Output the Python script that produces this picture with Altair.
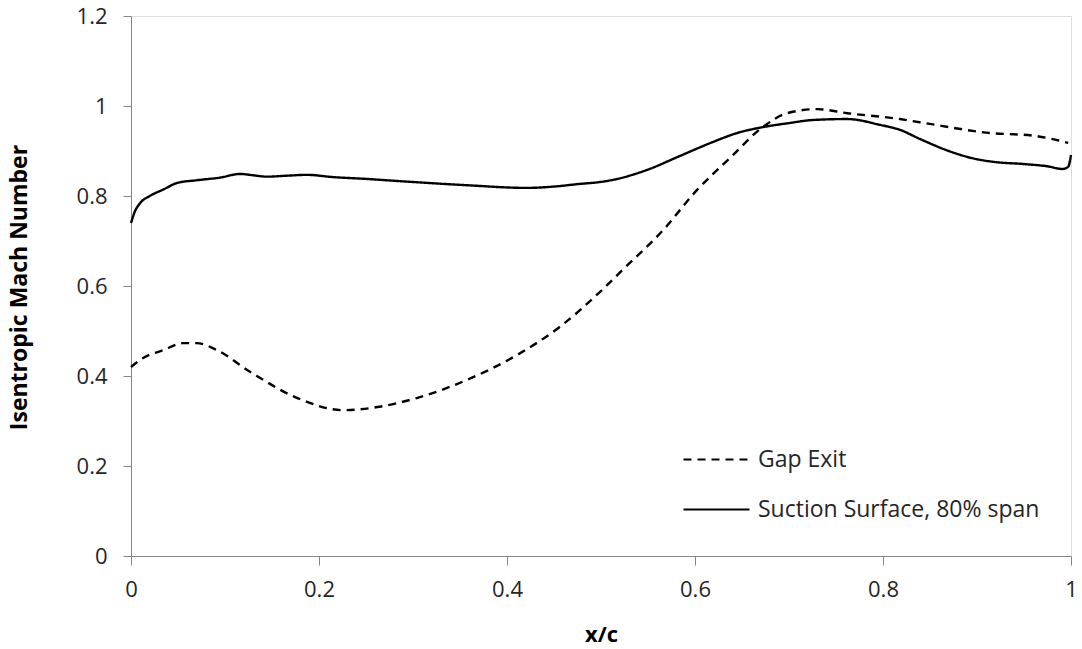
import altair as alt
import pandas as pd

# Suction surface, 80% span
ss_x = [0.0, 0.004, 0.0096, 0.02, 0.035, 0.049, 0.07, 0.095, 0.116, 0.13, 0.145,
        0.165, 0.187, 0.215, 0.25, 0.286, 0.357, 0.421, 0.45, 0.478, 0.499, 0.513,
        0.549, 0.584, 0.619, 0.645, 0.672, 0.7, 0.726, 0.762, 0.797, 0.818, 0.839,
        0.87, 0.895, 0.917, 0.95, 0.975, 0.991, 0.997, 1.0]
ss_y = [0.74, 0.765, 0.784, 0.8, 0.815, 0.829, 0.835, 0.841, 0.849, 0.846, 0.843,
        0.845, 0.847, 0.842, 0.838, 0.833, 0.824, 0.818, 0.821, 0.827, 0.831, 0.836,
        0.858, 0.889, 0.92, 0.94, 0.953, 0.962, 0.969, 0.971, 0.958, 0.947, 0.927,
        0.9, 0.884, 0.876, 0.871, 0.866, 0.86, 0.865, 0.891]

# Gap exit
ge_x = [0.0, 0.013, 0.035, 0.055, 0.07, 0.091, 0.127, 0.177, 0.226, 0.262,
        0.304, 0.357, 0.411, 0.456, 0.499, 0.523, 0.566, 0.602, 0.637, 0.672,
        0.698, 0.73, 0.762, 0.818, 0.839, 0.914, 0.96, 0.997]
ge_y = [0.42, 0.44, 0.458, 0.473, 0.473, 0.458, 0.409, 0.351, 0.324, 0.331,
        0.351, 0.391, 0.447, 0.509, 0.587, 0.636, 0.724, 0.813, 0.884, 0.953,
        0.984, 0.993, 0.984, 0.971, 0.964, 0.94, 0.934, 0.918]

series = ["Gap Exit", "Suction Surface, 80% span"]

df = pd.concat([
    pd.DataFrame({"x": ge_x, "y": ge_y, "series": series[0]}),
    pd.DataFrame({"x": ss_x, "y": ss_y, "series": series[1]}),
])

FONT = "Open Sans"
AXIS_GREY = "#868686"
LABEL = "#262626"

chart = alt.Chart(df).mark_line(
    color="black", strokeWidth=2.4, interpolate="monotone"
).encode(
    x=alt.X("x:Q", title="x/c",
            scale=alt.Scale(domain=[0, 1], nice=False, zero=False),
            axis=alt.Axis(values=[0, 0.2, 0.4, 0.6, 0.8, 1], format="~g",
                          grid=False, domainColor=AXIS_GREY, tickColor=AXIS_GREY,
                          tickSize=9, labelPadding=14, labelFontSize=22,
                          labelFlush=False,
                          labelColor=LABEL, labelFont=FONT,
                          titleFont=FONT, titleFontSize=22, titleFontWeight="bold",
                          titleColor="#000000", titleBaseline="middle",
                          titleY=78, titleX=470)),
    y=alt.Y("y:Q", title="Isentropic Mach Number",
            scale=alt.Scale(domain=[0, 1.2], nice=False),
            axis=alt.Axis(values=[0, 0.2, 0.4, 0.6, 0.8, 1, 1.2], format="~g",
                          grid=False, domainColor=AXIS_GREY, tickColor=AXIS_GREY,
                          tickSize=8, labelPadding=16, labelFontSize=22,
                          labelFlush=False,
                          labelColor=LABEL, labelFont=FONT,
                          titleFont=FONT, titleFontSize=23, titleFontWeight="bold",
                          titleColor="#000000", titleBaseline="middle",
                          titleAngle=270, titleX=-112, titleY=271)),
    strokeDash=alt.StrokeDash(
        "series:N",
        scale=alt.Scale(domain=series, range=[[8, 6], [1, 0]]),
        legend=alt.Legend(title=None, orient="none", legendX=551, legendY=409,
                          symbolType="stroke", symbolSize=4356,
                          symbolStrokeWidth=2.2, symbolStrokeColor="black",
                          labelFont=FONT, labelFontSize=23, labelColor=LABEL,
                          labelOffset=7, labelLimit=0, rowPadding=3),
    ),
    order="x:Q",
).properties(
    width=940, height=540,
    autosize=alt.AutoSizeParams(type="none"),
    padding={"left": 131, "top": 16, "right": 11, "bottom": 93},
).configure_view(strokeWidth=0).configure(background="white")

chart.save("out.html", embed_options={"renderer": "svg", "actions": False})
